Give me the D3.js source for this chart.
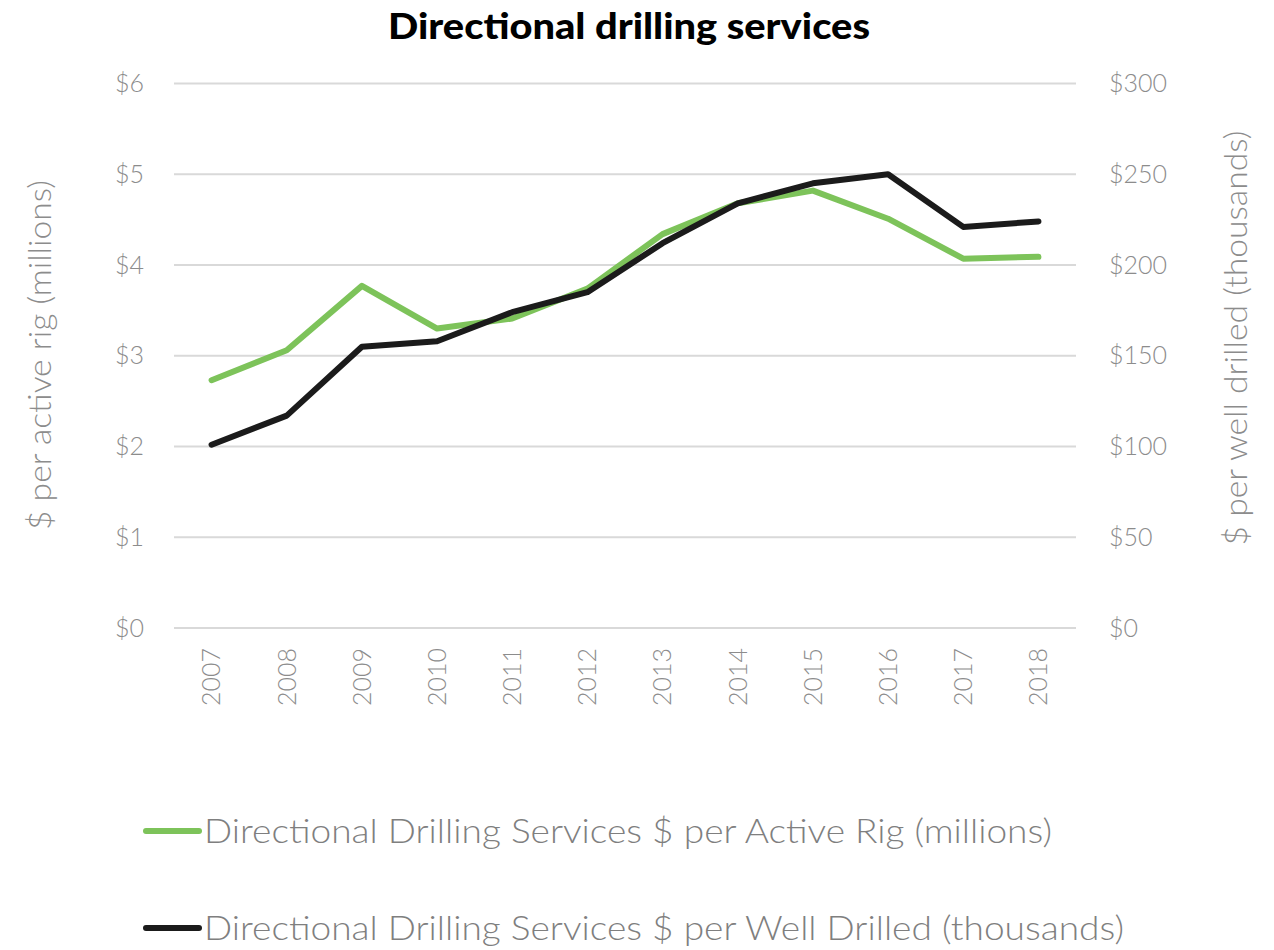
<!DOCTYPE html>
<html>
<head>
<meta charset="utf-8">
<script src="https://cdn.jsdelivr.net/npm/d3@7"></script>
<style>
  html, body { margin: 0; padding: 0; background: #fff; }
  svg text { font-family: "Lato", "Open Sans", sans-serif; }
</style>
</head>
<body>
<svg id="chart" width="1274" height="950"></svg>
<script>
// Directional drilling services: spend per active rig vs per well drilled
const years = ["2007","2008","2009","2010","2011","2012","2013","2014","2015","2016","2017","2018"];
const perRigMillions = [2.73, 3.06, 3.77, 3.30, 3.41, 3.74, 4.34, 4.68, 4.82, 4.51, 4.07, 4.09];
const perWellThousands = [101, 117, 155, 158, 174, 185, 212, 234, 245, 250, 221, 224];
const leftTicks = [0, 1, 2, 3, 4, 5, 6];
const rightTicks = [0, 50, 100, 150, 200, 250, 300];
const seriesNames = [
  "Directional Drilling Services $ per Active Rig (millions)",
  "Directional Drilling Services $ per Well Drilled (thousands)"
];
const colors = ["#7dc35a", "#1b1b1b"];

const svg = d3.select("#chart");
const plot = { left: 174, right: 1076, top: 83.5, bottom: 628 };

const x = d3.scaleBand().domain(years).range([plot.left, plot.right]);
const yL = d3.scaleLinear().domain([0, 6]).range([plot.bottom, plot.top]);
const yR = d3.scaleLinear().domain([0, 300]).range([plot.bottom, plot.top]);
const cx = d => x(d) + x.bandwidth() / 2;

// Gridlines
svg.append("g").selectAll("line").data(leftTicks).join("line")
  .attr("x1", plot.left).attr("x2", plot.right)
  .attr("y1", d => yL(d)).attr("y2", d => yL(d))
  .attr("stroke", "#d9d9d9").attr("stroke-width", 2);

const tickStyle = s => s.attr("fill", "#8c8c8c").style("font-size", "25px").style("font-weight", 300);

// Left axis
const gL = svg.append("g").attr("transform", `translate(${plot.left},0)`)
  .call(d3.axisLeft(yL).tickValues(leftTicks).tickFormat(d => "$" + d).tickSize(0).tickPadding(30));
gL.select(".domain").remove();
gL.selectAll("text").call(tickStyle).attr("font-family", null);

// Right axis
const gR = svg.append("g").attr("transform", `translate(${plot.right},0)`)
  .call(d3.axisRight(yR).tickValues(rightTicks).tickFormat(d => "$" + d).tickSize(0).tickPadding(33));
gR.select(".domain").remove();
gR.selectAll("text").call(tickStyle).attr("font-family", null);

// Bottom axis, rotated year labels
const gX = svg.append("g").attr("transform", `translate(0,${plot.bottom})`)
  .call(d3.axisBottom(x).tickSize(0).tickPadding(0));
gX.select(".domain").remove();
gX.selectAll("text").call(tickStyle).attr("font-family", null)
  .attr("transform", "rotate(-90)")
  .attr("text-anchor", "end")
  .attr("dy", "0.35em")
  .attr("x", -20).attr("y", 0);

// Axis titles
svg.append("text")
  .attr("transform", "translate(51,355) rotate(-90)")
  .attr("text-anchor", "middle")
  .attr("fill", "#8c8c8c").style("font-size", "31px").style("font-weight", 300)
  .attr("textLength", 350).attr("lengthAdjust", "spacingAndGlyphs")
  .text("$ per active rig (millions)");
svg.append("text")
  .attr("transform", "translate(1247,338) rotate(-90)")
  .attr("text-anchor", "middle")
  .attr("fill", "#8c8c8c").style("font-size", "31px").style("font-weight", 300)
  .attr("textLength", 415).attr("lengthAdjust", "spacingAndGlyphs")
  .text("$ per well drilled (thousands)");

// Title
svg.append("text")
  .attr("x", 629).attr("y", 39)
  .attr("text-anchor", "middle")
  .attr("fill", "#000").style("font-size", "36px").style("font-weight", 900)
  .attr("textLength", 482).attr("lengthAdjust", "spacingAndGlyphs")
  .text("Directional drilling services");

// Series lines
const lineL = d3.line().x((d, i) => cx(years[i])).y(d => yL(d));
const lineR = d3.line().x((d, i) => cx(years[i])).y(d => yR(d));
svg.append("path").datum(perRigMillions)
  .attr("d", lineL).attr("fill", "none")
  .attr("stroke", colors[0]).attr("stroke-width", 6)
  .attr("stroke-linejoin", "round").attr("stroke-linecap", "round");
svg.append("path").datum(perWellThousands)
  .attr("d", lineR).attr("fill", "none")
  .attr("stroke", colors[1]).attr("stroke-width", 6)
  .attr("stroke-linejoin", "round").attr("stroke-linecap", "round");

// Legend
const legend = svg.append("g");
const legendY = [831, 928];
seriesNames.forEach((name, i) => {
  legend.append("line")
    .attr("x1", 146).attr("x2", 199)
    .attr("y1", legendY[i]).attr("y2", legendY[i])
    .attr("stroke", colors[i]).attr("stroke-width", 6).attr("stroke-linecap", "round");
  legend.append("text")
    .attr("x", 204).attr("y", legendY[i] + 12)
    .attr("fill", "#7f7f7f").style("font-size", "34px").style("font-weight", 300)
    .attr("textLength", i === 0 ? 848 : 920).attr("lengthAdjust", "spacingAndGlyphs")
    .text(name);
});
</script>
</body>
</html>
